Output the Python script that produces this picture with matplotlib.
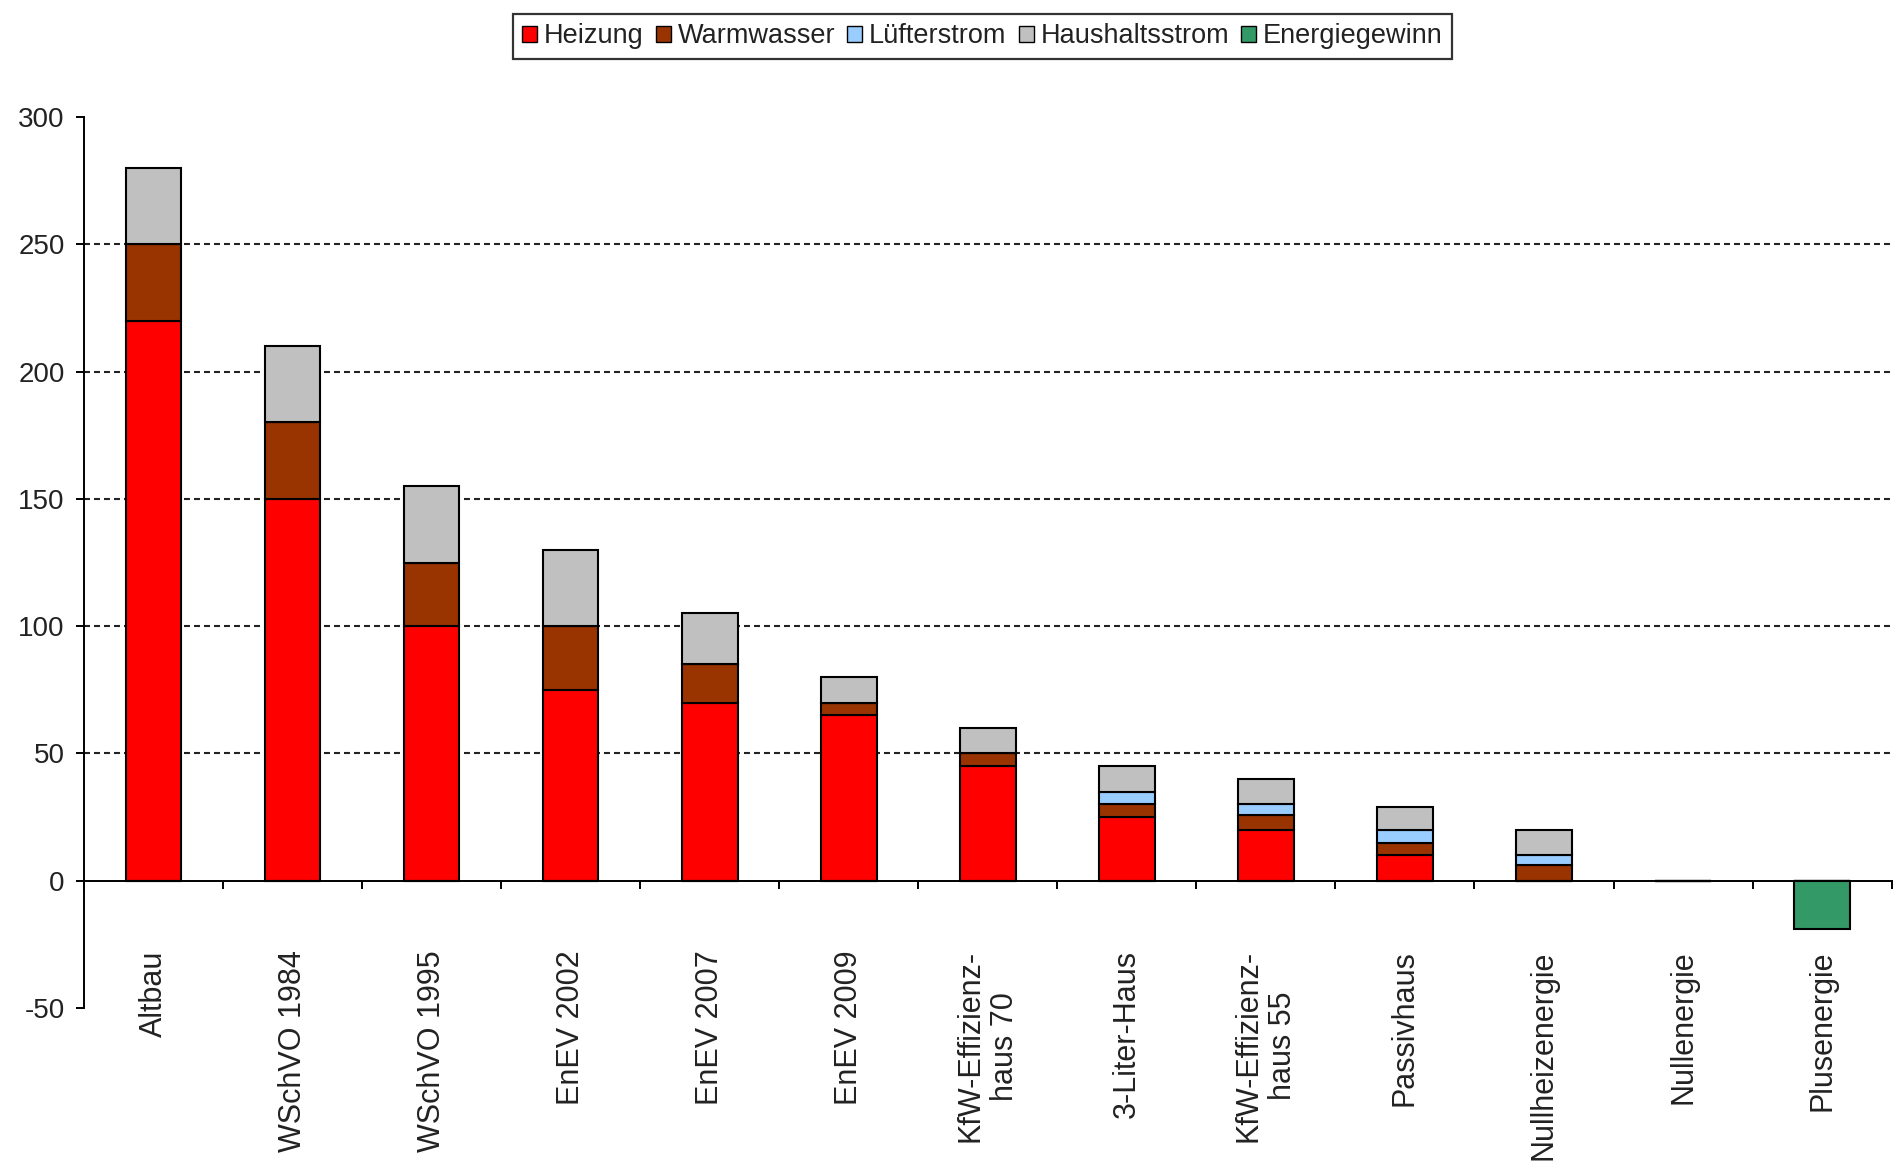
import matplotlib
matplotlib.use("Agg")
import matplotlib.pyplot as plt
from matplotlib import font_manager
from matplotlib.patches import Patch
import numpy as np

# ---- data ----
categories = ["Altbau", "WSchVO 1984", "WSchVO 1995", "EnEV 2002", "EnEV 2007",
              "EnEV 2009", "KfW-Effizienz-\nhaus 70", "3-Liter-Haus",
              "KfW-Effizienz-\nhaus 55", "Passivhaus", "Nullheizenergie",
              "Nullenergie", "Plusenergie"]
heizung        = [220, 150, 100, 75, 70, 65, 45, 25, 20, 10, 0, 0, 0]
warmwasser     = [30, 30, 25, 25, 15, 5, 5, 5, 6, 5, 6, 0, 0]
luefterstrom   = [0, 0, 0, 0, 0, 0, 0, 5, 4, 5, 4, 0, 0]
haushaltsstrom = [30, 30, 30, 30, 20, 10, 10, 10, 10, 9, 10, 0, 0]
energiegewinn  = [0, 0, 0, 0, 0, 0, 0, 0, 0, 0, 0, 0, -19]
series_names = ["Heizung", "Warmwasser", "Lüfterstrom", "Haushaltsstrom", "Energiegewinn"]
series_colors = ["#FF0000", "#993300", "#99CCFF", "#C0C0C0", "#339966"]
y_ticks = [-50, 0, 50, 100, 150, 200, 250, 300]

# ---- fonts ----
names = {f.name for f in font_manager.fontManager.ttflist}
narrow = "Liberation Sans Narrow" if "Liberation Sans Narrow" in names else "Liberation Sans"
narrow_size = 21 if narrow != "Liberation Sans" else 19.5
plt.rcParams['font.family'] = ["Liberation Sans", "DejaVu Sans"]
plt.rcParams['lines.scale_dashes'] = False

fig = plt.figure(figsize=(19.04, 11.72), dpi=100)
ax = fig.add_axes([0.0441, 0.1399, 0.9494, 0.7603])

x = np.arange(len(categories))
w = 0.4
edge = dict(edgecolor="black", linewidth=1.5)

h = np.array(heizung, float)
ww = np.array(warmwasser, float)
lu = np.array(luefterstrom, float)
hh = np.array(haushaltsstrom, float)
eg = np.array(energiegewinn, float)

ax.bar(x, h, w, color=series_colors[0], zorder=3, **edge)
ax.bar(x, ww, w, bottom=h, color=series_colors[1], zorder=3, **edge)
ax.bar(x, lu, w, bottom=h + ww, color=series_colors[2], zorder=3, **edge)
ax.bar(x, hh, w, bottom=h + ww + lu, color=series_colors[3], zorder=3, **edge)
ax.bar(x, eg, w, color=series_colors[4], zorder=3, **edge)

ax.set_xlim(-0.5, len(categories) - 0.5)
ax.set_ylim(-50, 300)
ax.set_yticks(y_ticks)
ax.set_yticklabels([str(v) for v in y_ticks], fontfamily=narrow, fontsize=20, color="#222222")

# gridlines
grid_levels = [v for v in y_ticks if 0 < v < 300]
ax.hlines(grid_levels, -0.5, len(categories) - 0.5, colors="#222222",
          linewidth=1.5, linestyles=(0, (4.3, 2.9)), zorder=1)

# spines
for s in ["top", "right"]:
    ax.spines[s].set_visible(False)
ax.spines["bottom"].set_position(("data", 0))
ax.spines["bottom"].set_linewidth(1.4)
ax.spines["left"].set_linewidth(1.4)
ax.spines["bottom"].set_zorder(4)

ax.set_xticks(x)
ax.set_xticklabels(categories, rotation=90, fontsize=22, color="#222222",
                   multialignment="center")
ax.tick_params(axis="x", which="major", length=0, pad=50)
ax.set_xticks(np.arange(len(categories) + 1) - 0.5, minor=True)
ax.tick_params(axis="x", which="minor", length=6, width=1.4, direction="out")
ax.tick_params(axis="y", length=6, width=1.4, direction="out", pad=8)

# legend
handles = [Patch(facecolor=c, edgecolor="black", linewidth=1.0) for c in series_colors]
leg = fig.legend(handles, series_names, loc="center", bbox_to_anchor=(0.516, 0.969),
                 ncol=5, frameon=True, fancybox=False, edgecolor="black",
                 prop={"family": narrow, "size": narrow_size}, handlelength=0.55,
                 handleheight=0.55, handletextpad=0.25, columnspacing=0.45,
                 borderpad=0.35, borderaxespad=0)
leg.get_frame().set_linewidth(1.6)
for t in leg.get_texts():
    t.set_color("#222222")

fig.savefig("out.png", dpi=100, facecolor="white")
